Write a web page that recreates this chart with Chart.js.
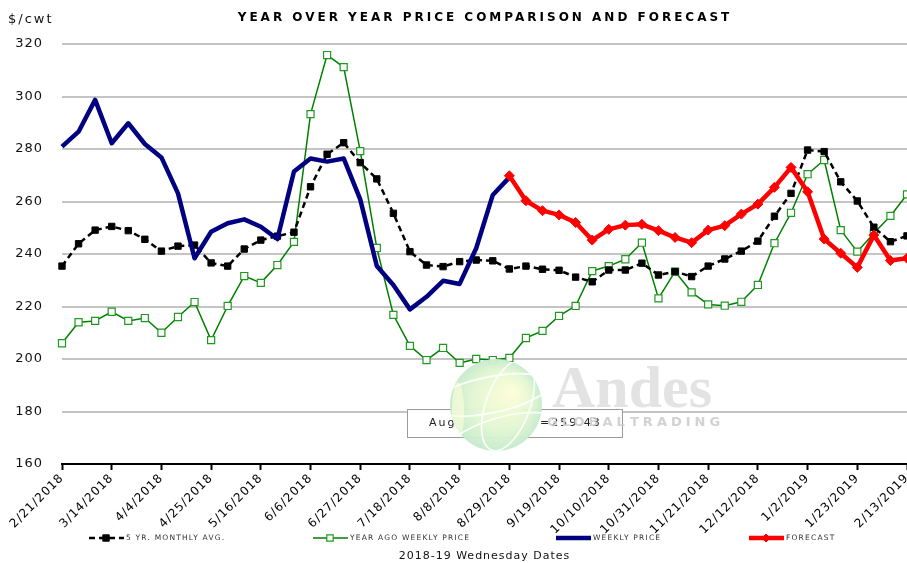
<!DOCTYPE html>
<html>
<head>
<meta charset="utf-8">
<title>Year Over Year Price Comparison and Forecast</title>
<script src="https://cdn.jsdelivr.net/npm/chart.js@4/dist/chart.umd.min.js"></script>
<style>
  body { margin: 0; background: #fff; }
  #wrap { width: 907px; height: 563px; }
</style>
</head>
<body>
<div id="wrap"><canvas id="myChart" width="907" height="563"></canvas></div>
<script>
const chartTitle = "YEAR OVER YEAR PRICE COMPARISON AND FORECAST";
const unitLabel = "$/cwt";
const xAxisTitle = "2018-19 Wednesday Dates";
const boxLabel = "Aug";
const boxValue = "=259.43";

const weekDates = [
    "2/21/2018", "2/28/2018", "3/7/2018", "3/14/2018", "3/21/2018", "3/28/2018",
    "4/4/2018", "4/11/2018", "4/18/2018", "4/25/2018", "5/2/2018", "5/9/2018",
    "5/16/2018", "5/23/2018", "5/30/2018", "6/6/2018", "6/13/2018", "6/20/2018",
    "6/27/2018", "7/4/2018", "7/11/2018", "7/18/2018", "7/25/2018", "8/1/2018",
    "8/8/2018", "8/15/2018", "8/22/2018", "8/29/2018", "9/5/2018", "9/12/2018",
    "9/19/2018", "9/26/2018", "10/3/2018", "10/10/2018", "10/17/2018", "10/24/2018",
    "10/31/2018", "11/7/2018", "11/14/2018", "11/21/2018", "11/28/2018", "12/5/2018",
    "12/12/2018", "12/19/2018", "12/26/2018", "1/2/2019", "1/9/2019", "1/16/2019",
    "1/23/2019", "1/30/2019", "2/6/2019", "2/13/2019"
];

const fiveYrAvg = [
    235.4, 243.9, 249.1, 250.5, 248.9, 245.6, 241.1, 243.0, 243.4, 236.6,
    235.4, 241.9, 245.3, 246.8, 248.3, 265.6, 278.0, 282.4, 274.8, 268.6,
    255.5, 240.9, 235.8, 235.2, 237.1, 237.7, 237.4, 234.3, 235.4, 234.2,
    233.8, 231.2, 229.4, 233.9, 233.9, 236.5, 232.0, 233.3, 231.4, 235.4,
    238.1, 241.1, 244.9, 254.4, 263.1, 279.6, 279.0, 267.5, 260.2, 250.2,
    244.7, 246.9
];

const yearAgoPrice = [
    206.0, 214.0, 214.5, 218.0, 214.5, 215.6, 210.0, 216.0, 221.7, 207.2,
    220.2, 231.6, 229.0, 235.8, 244.6, 293.3, 315.8, 311.2, 279.2, 242.3,
    216.8, 205.0, 199.6, 204.2, 198.5, 200.0, 199.6, 200.4, 208.0, 210.7,
    216.4, 220.2, 233.5, 235.4, 238.0, 244.3, 223.1, 233.3, 225.4, 220.8,
    220.3, 221.8, 228.2, 244.1, 255.7, 270.4, 275.8, 249.1, 240.9, 247.9,
    254.5, 262.7
];

const weeklyPrice = [
    280.9, 286.6, 298.7, 282.2, 289.8, 281.9, 276.8, 263.1, 238.4, 248.5,
    251.7, 253.2, 250.4, 245.7, 271.4, 276.4, 275.2, 276.4, 260.8, 235.4,
    228.2, 218.9, 223.7, 229.8, 228.6, 242.2, 262.5, 269.2, null, null,
    null, null, null, null, null, null, null, null, null, null,
    null, null, null, null, null, null, null, null, null, null,
    null, null
];

const forecast = [
    null, null, null, null, null, null, null, null, null, null,
    null, null, null, null, null, null, null, null, null, null,
    null, null, null, null, null, null, null, 269.8, 260.3, 256.5,
    254.9, 252.0, 245.3, 249.4, 251.0, 251.3, 248.9, 246.3, 244.3, 249.1,
    250.8, 255.2, 259.0, 265.4, 273.0, 263.7, 245.7, 240.3, 234.9, 247.2,
    237.5, 238.4
];

const fontName = "'DejaVu Sans', sans-serif";
const legendX = [89, 313, 556, 749];
const legendY = 538;

Chart.defaults.font.family = fontName;
Chart.defaults.color = "#111";

const drawMarker = (ctx, style, x, y, size) => {
    ctx.beginPath();
    if (style == "rectRot") {
        ctx.moveTo(x, y - size);
        ctx.lineTo(x + size, y);
        ctx.lineTo(x, y + size);
        ctx.lineTo(x - size, y);
        ctx.closePath();
    } else {
        ctx.rect(x - size, y - size, size * 2, size * 2);
    }
    ctx.fill();
    ctx.stroke();
};

const drawWatermark = (ctx) => {
    // note box behind the logo
    ctx.fillStyle = "#fff";
    ctx.fillRect(407, 409, 215, 28);
    ctx.strokeStyle = "#9a9a9a";
    ctx.lineWidth = 1;
    ctx.strokeRect(407.5, 409.5, 215, 28);
    ctx.fillStyle = "#222";
    ctx.font = "11px " + fontName;
    ctx.letterSpacing = "2px";
    ctx.textAlign = "left";
    ctx.textBaseline = "middle";
    ctx.fillText(boxLabel, 429, 423);
    ctx.fillText(boxValue, 540, 423);

    // globe
    var g = ctx.createRadialGradient(512, 392, 4, 496, 405, 47);
    g.addColorStop(0, "rgba(250,253,214,0.96)");
    g.addColorStop(0.6, "rgba(226,246,210,0.96)");
    g.addColorStop(1, "rgba(196,234,204,0.96)");
    ctx.beginPath();
    ctx.arc(496, 405, 46, 0, Math.PI * 2);
    ctx.fillStyle = g;
    ctx.fill();

    ctx.save();
    ctx.beginPath();
    ctx.arc(496, 405, 46, 0, Math.PI * 2);
    ctx.clip();
    ctx.strokeStyle = "rgba(255,255,255,0.9)";
    ctx.lineWidth = 1.6;
    ctx.beginPath();
    ctx.ellipse(508, 405, 22, 48, 0.35, 0, Math.PI * 2);
    ctx.stroke();
    ctx.beginPath();
    ctx.ellipse(500, 440, 60, 22, -0.3, 0, Math.PI * 2);
    ctx.stroke();
    ctx.beginPath();
    ctx.ellipse(490, 395, 60, 18, -0.2, 0, Math.PI * 2);
    ctx.stroke();
    ctx.fillStyle = "rgba(255,255,220,0.6)";
    ctx.beginPath();
    ctx.ellipse(458, 412, 6, 30, 0, 0, Math.PI * 2);
    ctx.fill();
    ctx.restore();

    // company name
    ctx.letterSpacing = "0px";
    ctx.fillStyle = "rgba(226,226,226,0.95)";
    ctx.font = "bold 60px 'Liberation Serif', serif";
    ctx.textBaseline = "alphabetic";
    ctx.fillText("Andes", 552, 407);
    ctx.font = "bold 13px " + fontName;
    ctx.letterSpacing = "4px";
    ctx.textBaseline = "middle";
    ctx.fillStyle = "rgba(205,205,205,0.9)";
    ctx.fillText("GLOBAL", 547, 423);
    ctx.fillText("TRADING", 630, 423);
};

const decorPlugin = {
    id: "decor",
    beforeDraw(chart) {
        chart.ctx.letterSpacing = "1px";
    },
    afterDraw(chart) {
        const ctx = chart.ctx;
        ctx.save();

        drawWatermark(ctx);

        // title and unit
        ctx.fillStyle = "#000";
        ctx.textBaseline = "middle";
        ctx.textAlign = "center";
        ctx.font = "bold 12px " + fontName;
        ctx.letterSpacing = "3px";
        ctx.fillText(chartTitle, 485, 18);

        ctx.textAlign = "left";
        ctx.font = "13px " + fontName;
        ctx.letterSpacing = "2px";
        ctx.fillStyle = "#111";
        ctx.fillText(unitLabel, 8, 20);

        // legend
        chart.data.datasets.forEach((ds, i) => {
            var x0 = legendX[i];
            ctx.save();
            ctx.strokeStyle = ds.borderColor;
            ctx.lineWidth = ds.borderWidth;
            ctx.setLineDash(ds.borderDash || []);
            ctx.beginPath();
            ctx.moveTo(x0, legendY);
            ctx.lineTo(x0 + 35, legendY);
            ctx.stroke();
            ctx.setLineDash([]);
            if (ds.pointRadius > 0) {
                ctx.fillStyle = ds.pointBackgroundColor;
                ctx.strokeStyle = ds.pointBorderColor;
                ctx.lineWidth = ds.pointBorderWidth;
                drawMarker(ctx, ds.pointStyle, x0 + 17, legendY, ds.pointStyle == "rectRot" ? 4 : 3.2);
            }
            ctx.restore();
            ctx.fillStyle = "#333";
            ctx.font = "7.5px " + fontName;
            ctx.letterSpacing = "1.2px";
            ctx.textAlign = "left";
            ctx.fillText(ds.label, x0 + 37, legendY + 0.5);
        });

        ctx.restore();
    }
};

const ctx = document.getElementById("myChart").getContext("2d");

const config = {
    type: "line",
    data: {
        labels: weekDates,
        datasets: [{
            label: "5 YR. MONTHLY AVG.",
            data: fiveYrAvg,
            borderColor: "#000",
            backgroundColor: "#000",
            borderWidth: 2.5,
            borderDash: [6, 4],
            pointStyle: "rect",
            pointRadius: 4.5,
            pointBackgroundColor: "#000",
            pointBorderColor: "#000",
            pointBorderWidth: 1,
            order: 2,
        }, {
            label: "YEAR AGO WEEKLY PRICE",
            data: yearAgoPrice,
            borderColor: "#008000",
            backgroundColor: "#fff",
            borderWidth: 1.5,
            pointStyle: "rect",
            pointRadius: 5,
            pointBackgroundColor: "#fff",
            pointBorderColor: "#1f991f",
            pointBorderWidth: 1.2,
            order: 3,
        }, {
            label: "WEEKLY PRICE",
            data: weeklyPrice,
            borderColor: "#000080",
            backgroundColor: "#000080",
            borderWidth: 4.5,
            pointRadius: 0,
            order: 1,
        }, {
            label: "FORECAST",
            data: forecast,
            borderColor: "#ff0000",
            backgroundColor: "#ff0000",
            borderWidth: 4.5,
            pointStyle: "rectRot",
            pointRadius: 5,
            pointBackgroundColor: "#ff0000",
            pointBorderColor: "#ff0000",
            pointBorderWidth: 1,
            order: 0,
        }],
    },
    options: {
        responsive: false,
        animation: false,
        devicePixelRatio: 1,
        layout: { autoPadding: false, padding: { top: 44, right: 0, bottom: 0, left: 0 } },
        elements: { line: { tension: 0, borderJoinStyle: "round" } },
        plugins: {
            legend: { display: false },
            tooltip: { enabled: false },
            title: { display: false },
        },
        scales: {
            x: {
                grid: {
                    drawOnChartArea: false,
                    drawTicks: true,
                    tickLength: 6,
                    tickWidth: 2,
                    tickColor: (c) => c.index % 3 == 0 ? "#000" : "rgba(0,0,0,0)",
                },
                border: { display: true, color: "#000", width: 2 },
                ticks: {
                    autoSkip: false,
                    minRotation: 45,
                    maxRotation: 45,
                    padding: 1,
                    color: "#000",
                    font: { size: 12 },
                    callback: (val, i) => i % 3 == 0 ? weekDates[i] : "",
                },
                title: {
                    display: true,
                    text: xAxisTitle,
                    color: "#111",
                    font: { size: 11 },
                    padding: { top: 0, bottom: 0 },
                },
                afterFit: (scale) => {
                    scale.height = 99;
                    scale.paddingLeft = 0;
                    scale.paddingRight = 0;
                },
            },
            y: {
                min: 160,
                max: 320,
                grid: { color: "#c4c4c4", lineWidth: 2, drawTicks: false },
                border: { display: false },
                ticks: {
                    stepSize: 20,
                    padding: 19,
                    color: "#111",
                    font: { size: 13 },
                },
                afterFit: (scale) => {
                    scale.width = 62;
                },
            },
        },
    },
    plugins: [decorPlugin],
};

var myChart = new Chart(ctx, config);
</script>
</body>
</html>
